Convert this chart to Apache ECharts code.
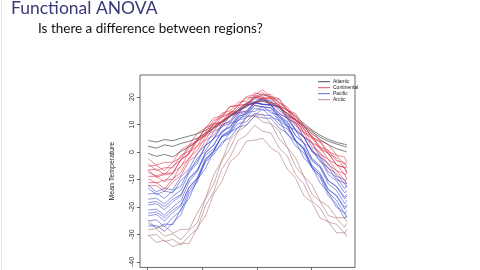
<!DOCTYPE html>
<html>
<head>
<meta charset="utf-8">
<script src="https://cdn.jsdelivr.net/npm/echarts@6/dist/echarts.min.js"></script>
<style>
  html, body { margin: 0; padding: 0; background: #fff; }
  #chart { width: 480px; height: 270px; }
</style>
</head>
<body>
<div id="chart"></div>
<script>
// day of year for each sample
var days = [1,16,31,46,61,76,91,106,121,136,151,166,181,196,211,226,241,256,271,286,301,316,331,346,361,365]

var regions = ['Atlantic', 'Continental', 'Pacific', 'Arctic']
var regionColors = ['#1e1e1e', '#d92a40', '#3443cc', '#a66c6c']
var yTicks = [-40, -30, -20, -10, 0, 10, 20]
var xTicks = [0, 100, 200, 300]

var atlantic = [
    [4.2,3.6,4.5,4.1,5.0,5.8,6.6,7.9,9.3,11.0,13.2,15.4,17.6,19.6,20.8,20.1,18.0,15.4,12.8,10.4,8.0,6.1,4.6,3.5,2.8,2.6],
    [2.1,1.4,2.6,2.0,3.1,3.9,5.0,6.8,8.6,10.7,12.9,14.8,16.6,18.0,18.4,17.6,16.0,13.9,11.7,9.4,7.3,5.4,3.9,2.9,2.0,1.8],
    [-0.5,-1.6,-0.9,-1.8,0.2,1.8,3.9,6.2,8.7,10.9,13.0,15.1,16.9,18.2,18.8,18.1,16.4,14.1,11.6,9.0,6.6,4.5,2.6,1.2,0.3,0.0]
]

var continental = [
    [-2.4,-4.7,-3.8,-3.7,0.8,2.5,6.9,8.6,12.4,13.2,16.6,16.8,19.7,19.9,21.6,19.4,19.1,15.2,14.0,9.6,7.9,4.0,2.8,-1.1,-1.9,-3.6],
    [-5.1,-4.9,-6.8,-3.8,-2.0,2.4,4.2,8.7,9.9,13.3,14.1,17.0,17.2,20.1,19.3,19.6,16.8,15.4,11.6,9.7,5.3,4.0,0.1,-1.2,-4.6,-3.9],
    [-6.6,-6.2,-8.3,-5.1,-3.0,1.9,4.0,8.9,10.4,14.1,15.0,18.1,18.5,21.5,20.8,20.9,17.9,16.4,12.1,9.9,5.1,3.6,-0.7,-2.2,-5.9,-5.2],
    [-7.4,-8.7,-7.7,-7.6,-2.8,-0.8,4.0,5.9,10.1,11.0,14.6,14.9,18.0,18.2,20.1,17.8,17.4,13.2,11.8,7.0,5.1,0.9,-0.5,-4.7,-5.6,-7.5],
    [-8.9,-8.8,-10.9,-7.5,-5.3,-0.1,2.1,7.2,8.8,12.7,13.7,16.9,17.4,20.6,19.9,19.9,16.8,15.1,10.7,8.4,3.3,1.7,-2.8,-4.4,-8.3,-7.6],
    [-9.8,-11.3,-10.2,-10.0,-4.9,-2.7,2.3,4.5,8.9,9.9,13.7,14.1,17.3,17.7,19.6,17.2,16.7,12.3,10.7,5.7,3.5,-0.9,-2.5,-6.9,-7.9,-9.8],
    [-11.2,-11.1,-13.4,-9.8,-7.4,-2.0,0.5,5.8,7.6,11.6,12.8,16.2,16.7,20.0,19.3,19.3,16.1,14.2,9.6,7.1,1.8,-0.1,-4.7,-6.6,-10.6,-9.8],
    [-4.3,-6.8,-5.7,-5.8,-1.2,0.3,4.7,6.2,10.2,10.8,14.2,14.3,17.2,17.4,19.1,16.9,16.7,12.8,11.7,7.3,5.7,1.8,0.7,-3.2,-3.8,-5.6],
    [-12.3,-12.2,-14.4,-10.9,-8.6,-3.3,-1.0,4.2,6.0,9.9,11.0,14.3,14.8,18.1,17.3,17.3,14.2,12.4,7.9,5.5,0.3,-1.5,-6.0,-7.8,-11.7,-10.9],
    [-6.5,-9.2,-8.2,-7.9,-2.7,-0.4,4.7,7.0,11.5,12.6,16.5,17.0,20.2,20.8,22.6,20.1,19.5,15.1,13.4,8.3,6.0,1.5,-0.2,-4.7,-5.8,-7.7]
]

var pacific = [
    [-12.0,-14.5,-13.2,-13.8,-9.0,-6.1,-0.4,2.5,7.5,9.1,13.1,14.0,17.4,17.6,19.6,17.1,16.4,12.0,10.5,5.4,3.2,-1.8,-4.1,-8.8,-10.0,-11.7],
    [-15.3,-15.0,-16.9,-14.2,-12.4,-6.5,-3.4,2.4,4.7,9.2,10.5,14.3,14.9,18.0,17.4,17.2,13.9,12.2,7.8,5.4,0.3,-2.0,-7.2,-9.2,-13.3,-12.2],
    [-17.2,-16.8,-18.9,-16.1,-13.9,-7.5,-4.1,2.2,4.9,9.7,11.3,15.3,16.2,19.4,18.9,18.6,15.1,13.1,8.3,5.6,0.1,-2.7,-8.2,-10.5,-14.9,-13.9],
    [-19.3,-18.8,-21.0,-18.1,-16.0,-9.6,-6.4,-0.1,2.5,7.4,8.9,13.0,13.7,17.0,16.4,16.2,12.6,10.8,5.9,3.4,-2.3,-4.9,-10.4,-12.6,-17.1,-16.0],
    [-21.1,-20.8,-23.0,-20.0,-17.7,-10.8,-7.2,-0.4,2.4,7.6,9.2,13.6,14.4,17.9,17.3,17.1,13.2,11.2,6.0,3.2,-2.8,-5.6,-11.6,-14.0,-18.8,-17.6],
    [-23.2,-22.7,-25.1,-22.0,-19.7,-12.8,-9.3,-2.4,0.4,5.6,7.2,11.6,12.4,15.9,15.3,15.1,11.2,9.2,4.0,1.2,-4.8,-7.6,-13.6,-16.0,-20.8,-19.6],
    [-25.1,-24.7,-27.2,-23.8,-21.3,-14.0,-10.1,-2.8,0.3,5.8,7.6,12.2,13.2,16.9,16.3,16.0,11.9,9.6,4.2,1.0,-5.3,-8.4,-14.8,-17.5,-22.5,-21.3],
    [-26.0,-27.5,-26.2,-26.5,-20.7,-16.9,-9.9,-6.0,0.2,2.5,7.3,8.8,12.8,13.5,15.6,12.7,11.5,6.3,3.9,-2.1,-5.3,-11.3,-14.5,-20.1,-22.1,-23.9],
    [-18.4,-18.0,-19.9,-17.2,-15.5,-9.7,-6.8,-1.1,1.1,5.5,6.7,10.4,11.0,14.0,13.4,13.3,10.0,8.4,4.1,1.8,-3.2,-5.4,-10.5,-12.4,-16.4,-15.3],
    [-22.3,-21.8,-23.9,-21.1,-19.1,-12.9,-9.7,-3.6,-1.0,3.6,5.1,9.0,9.8,13.0,12.4,12.2,8.7,6.9,2.2,-0.3,-5.7,-8.3,-13.6,-15.8,-20.1,-19.1],
    [-13.1,-15.5,-14.2,-14.9,-10.3,-7.6,-2.2,0.4,5.2,6.6,10.5,11.3,14.5,14.7,16.6,14.2,13.6,9.4,8.0,3.2,1.2,-3.6,-5.6,-10.1,-11.2,-12.9],
    [-27.0,-26.7,-28.9,-25.8,-22.8,-15.2,-10.9,-3.3,0.2,5.9,8.0,12.8,14.0,17.9,17.3,16.9,12.6,10.0,4.3,0.9,-5.8,-9.3,-15.9,-18.9,-24.2,-23.1]
]

var arctic = [
    [-30.2,-32.9,-32.1,-34.5,-33.2,-33.3,-27.6,-23.2,-15.3,-10.7,-3.6,-1.0,3.9,4.3,5.0,1.5,-0.4,-6.3,-9.4,-15.8,-18.4,-24.0,-25.4,-29.4,-29.4,-30.8],
    [-30.4,-30.0,-32.6,-31.8,-33.9,-30.5,-28.0,-19.6,-14.5,-6.2,-1.9,4.3,6.1,9.7,7.5,6.9,1.5,-1.5,-8.2,-11.6,-17.8,-20.4,-25.4,-26.3,-29.6,-28.1],
    [-28.3,-27.9,-30.6,-29.8,-31.9,-28.5,-25.8,-17.1,-11.8,-3.2,1.3,7.6,9.5,13.2,10.9,10.3,4.7,1.6,-5.3,-8.9,-15.3,-18.0,-23.1,-24.1,-27.4,-25.9],
    [-24.9,-27.7,-26.9,-29.5,-28.2,-28.1,-22.2,-16.9,-8.4,-3.1,4.4,7.6,12.7,13.3,13.8,10.3,7.8,1.7,-2.1,-8.7,-11.9,-17.8,-19.7,-23.8,-24.0,-25.5]
]

function curveSeries(name, color, curves) {
    return curves.map(function(vals) {
        return {
            name: name,
            type: 'line',
            showSymbol: false,
            silent: true,
            color: color,
            lineStyle: { width: 0.7, color: color, opacity: 0.8 },
            data: vals.map(function(v, i) { return [days[i], v] })
        }
    })
}

var series = []
    .concat(curveSeries(regions[0], regionColors[0], atlantic))
    .concat(curveSeries(regions[1], regionColors[1], continental))
    .concat(curveSeries(regions[2], regionColors[2], pacific))
    .concat(curveSeries(regions[3], regionColors[3], arctic))

var chart = echarts.init(document.getElementById('chart'))
chart.setOption({
    animation: false,
    backgroundColor: '#fff',
    graphic: [
        { type: 'rect', shape: { x: 1, y: 0, width: 1, height: 270 }, style: { fill: '#e4e4e4' } },
        { type: 'text', left: 11, top: -1, style: { text: 'Functional ANOVA', font: '17.5px Lato', fill: '#3a3a78' } },
        { type: 'text', left: 38, top: 22, style: { text: 'Is there a difference between regions?', font: '13.5px Lato', fill: '#111' } }
    ],
    legend: {
        data: regions,
        orient: 'vertical',
        left: 318,
        top: 79,
        icon: 'rect',
        itemWidth: 12,
        itemHeight: 0.8,
        itemGap: 0.5,
        padding: 0,
        textStyle: { fontSize: 5, lineHeight: 5.5, color: '#222', fontFamily: 'Liberation Sans', padding: [0, 0, 0, -2] }
    },
    grid: {
        left: 140, top: 75, right: 125, bottom: 2,
        show: true, borderColor: '#444', borderWidth: 0.8
    },
    xAxis: {
        type: 'value', min: -14, max: 380,
        axisLine: { show: false, onZero: false },
        axisTick: { show: true, customValues: xTicks, length: 3, lineStyle: { color: '#444', width: 0.8 } },
        axisLabel: { show: false },
        splitLine: { show: false }
    },
    yAxis: {
        type: 'value', min: -42, max: 28,
        name: 'Mean Temperature',
        nameLocation: 'middle',
        nameRotate: 90,
        nameGap: 24,
        nameTextStyle: { fontSize: 7, color: '#222', fontFamily: 'Liberation Sans' },
        axisLine: { show: false, onZero: false },
        axisTick: { show: true, customValues: yTicks, length: 3, lineStyle: { color: '#444', width: 0.8 } },
        axisLabel: { customValues: yTicks, rotate: 90, fontSize: 7, margin: 4, color: '#333', fontFamily: 'Liberation Sans' },
        splitLine: { show: false }
    },
    series: series
})
</script>
</body>
</html>
